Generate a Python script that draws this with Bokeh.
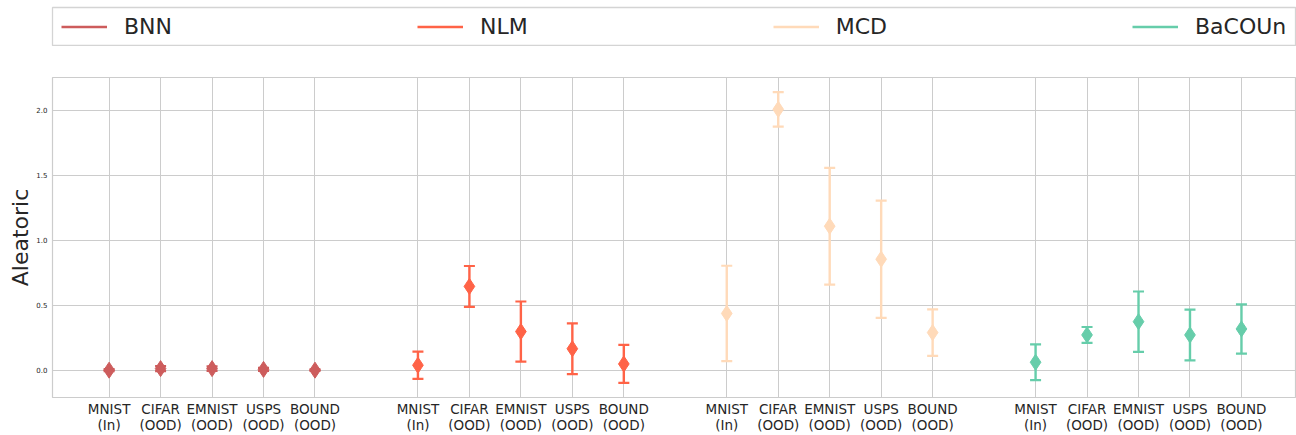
from bokeh.plotting import figure
from bokeh.layouts import column
from bokeh.models import (ColumnDataSource, FixedTicker, Legend, LegendItem, Range1d)
from bokeh.embed import file_html
from bokeh.resources import INLINE

# ---------------- data ----------------
datasets = ["MNIST\n(In)", "CIFAR\n(OOD)", "EMNIST\n(OOD)", "USPS\n(OOD)", "BOUND\n(OOD)"]
methods = ["BNN", "NLM", "MCD", "BaCOUn"]
colors = ["#cd5c5c", "#ff6347", "#ffdab9", "#66cdaa"]

bnn_mean = [0.0, 0.012, 0.012, 0.006, 0.0]
bnn_err = [0.008, 0.02, 0.018, 0.012, 0.006]
nlm_mean = [0.038, 0.644, 0.297, 0.165, 0.048]
nlm_err = [0.105, 0.157, 0.231, 0.195, 0.146]
mcd_mean = [0.436, 2.005, 1.107, 0.853, 0.289]
mcd_err = [0.367, 0.132, 0.449, 0.451, 0.179]
bacoun_mean = [0.061, 0.271, 0.373, 0.271, 0.317]
bacoun_err = [0.137, 0.061, 0.232, 0.195, 0.189]

yticks = [0.0, 0.5, 1.0, 1.5, 2.0]

means = [bnn_mean, nlm_mean, mcd_mean, bacoun_mean]
errs = [bnn_err, nlm_err, mcd_err, bacoun_err]

FONT = "DejaVu Sans"
TXT = "#262626"
GRID = "#cccccc"
W = 1296

# ---------------- legend strip ----------------
top = figure(width=W, height=46, x_range=Range1d(0, 1), y_range=Range1d(0, 1),
             output_backend="svg", toolbar_location=None,
             x_axis_location=None, y_axis_location=None,
             min_border_left=52, min_border_right=1, min_border_top=7,
             min_border_bottom=1)
top.grid.visible = False
top.outline_line_color = "#d4d4d4"
top.outline_line_width = 1.3
top.border_fill_color = "white"
items = []
for g, m in enumerate(methods):
    # legend proxy only (kept outside the visible range)
    r = top.line(x=[5, 6], y=[5, 5], line_color=colors[g], line_width=2.6)
    items.append(LegendItem(label=m, renderers=[r]))
leg = Legend(items=items, location="center_left", orientation="horizontal",
             padding=9, margin=0, spacing=245, border_line_alpha=0,
             background_fill_alpha=0, label_text_font=FONT,
             label_text_font_size="22px", label_text_color=TXT,
             glyph_width=46, glyph_height=20, label_standoff=17,
             label_height=20)
top.add_layout(leg)

# ---------------- main plot ----------------
p = figure(width=W, height=389,
           x_range=Range1d(-1.1, 23.05), y_range=Range1d(-0.21, 2.25),
           output_backend="svg", toolbar_location=None,
           min_border_left=52, min_border_right=1, min_border_top=31,
           min_border_bottom=0)
p.background_fill_color = "white"
p.border_fill_color = "white"
p.outline_line_color = GRID
p.outline_line_width = 1.2

positions = []
labels = {}
for g in range(len(methods)):
    for i, d in enumerate(datasets):
        x = g * 6 + i
        positions.append(x)
        labels[x] = d

for g, m in enumerate(methods):
    xs = [g * 6 + i for i in range(len(datasets))]
    lo = [mu - e for mu, e in zip(means[g], errs[g])]
    hi = [mu + e for mu, e in zip(means[g], errs[g])]
    src = ColumnDataSource(dict(x=xs, mean=means[g], lo=lo, hi=hi))
    p.segment(x0="x", y0="lo", x1="x", y1="hi", source=src,
              line_color=colors[g], line_width=2.4)
    p.scatter(x="x", y="lo", source=src, marker="dash", size=11,
              line_color=colors[g], line_width=2.2)
    p.scatter(x="x", y="hi", source=src, marker="dash", size=11,
              line_color=colors[g], line_width=2.2)
    p.scatter(x="x", y="mean", source=src, marker="diamond", size=16,
              fill_color=colors[g], line_color=colors[g], line_width=1)

p.xaxis.ticker = FixedTicker(ticks=positions)
p.xaxis.major_label_overrides = labels
p.xaxis.major_label_text_font = FONT
p.xaxis.major_label_text_font_size = "13.5px"
p.xaxis.major_label_text_color = TXT
p.xaxis.major_label_text_line_height = 1.0
p.xaxis.major_label_standoff = 3

p.yaxis.ticker = FixedTicker(ticks=yticks)
p.yaxis.major_label_overrides = {t: f"{t:.1f}" for t in yticks}
p.yaxis.major_label_text_font = FONT
p.yaxis.major_label_text_font_size = "7px"
p.yaxis.major_label_text_color = TXT
p.yaxis.major_label_standoff = 5
p.yaxis.axis_label = "Aleatoric"
p.yaxis.axis_label_text_font = FONT
p.yaxis.axis_label_text_font_size = "22px"
p.yaxis.axis_label_text_font_style = "normal"
p.yaxis.axis_label_text_color = TXT
p.yaxis.axis_label_standoff = 0

for ax in (p.xaxis, p.yaxis):
    ax.axis_line_color = None
    ax.major_tick_line_color = None
    ax.minor_tick_line_color = None
    ax.major_tick_out = 0
    ax.major_tick_in = 0
    ax.minor_tick_out = 0
    ax.minor_tick_in = 0

p.xgrid.grid_line_color = GRID
p.ygrid.grid_line_color = GRID
p.xgrid.grid_line_width = 1
p.ygrid.grid_line_width = 1

layout = column(top, p, spacing=0)
open("out.html", "w").write(file_html(layout, INLINE))
